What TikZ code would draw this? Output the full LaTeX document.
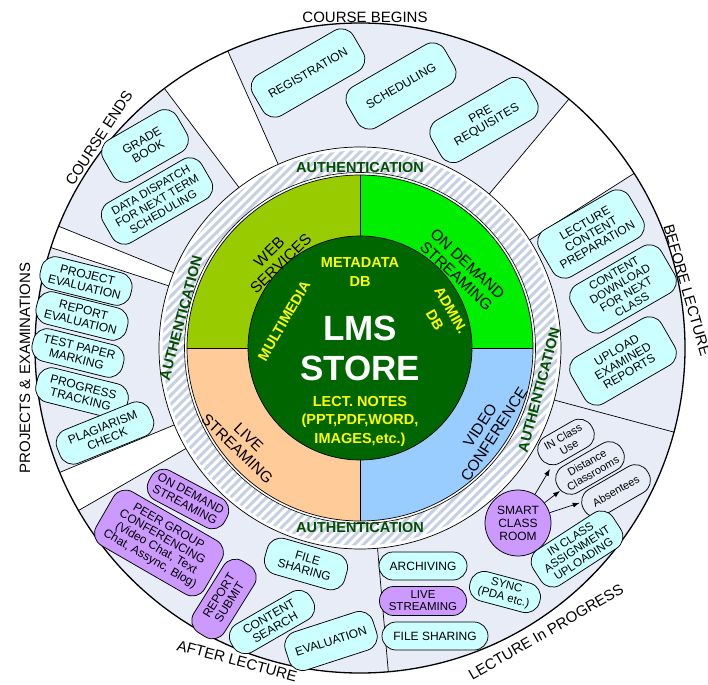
\documentclass[tikz,border=0pt]{standalone}
\usepackage{fontspec}
\setmainfont{Liberation Sans}
\usetikzlibrary{arrows.meta}
\definecolor{lav}{HTML}{E8ECF7}
\definecolor{cyanbox}{HTML}{CCFFFF}
\definecolor{purplebox}{HTML}{CC99FF}
\definecolor{webg}{HTML}{99CC00}
\definecolor{odg}{HTML}{00EE00}
\definecolor{livec}{HTML}{FFCC99}
\definecolor{videoc}{HTML}{99CCFF}
\definecolor{innerg}{HTML}{006600}
\definecolor{authg}{HTML}{004F00}
\definecolor{hatchc}{HTML}{C6D0E4}
\definecolor{yel}{HTML}{FFFF00}
\begin{document}
\begin{tikzpicture}[x=1pt,y=1pt,
  bx/.style={draw=black, line width=0.75pt, rounded corners=14pt, align=center, inner sep=0pt, font=\fontsize{12}{12.5}\selectfont, text=black},
  cb/.style={bx, fill=cyanbox},
  pb/.style={bx, fill=purplebox},
  wb/.style={bx, font=\fontsize{11}{12}\selectfont},
  sz/.style 2 args={minimum width=#1pt, minimum height=#2pt},
  qt/.style={align=center, font=\fontsize{15.5}{16.5}\selectfont, text=black},
  yt/.style={align=center, font=\bfseries\fontsize{14.5}{18.5}\selectfont, text=yel},
  authtxt/.style={font=\bfseries\fontsize{14.5}{16}\selectfont, text=authg},
  ol/.style={font=\fontsize{15}{16}\selectfont, text=black},
  arr/.style={-{Latex[length=7pt,width=5pt]}, line width=0.7pt}
]
\useasboundingbox (0,0) rectangle (708,-684);
\fill[white] (0,0) rectangle (708,-684);
\begin{scope}[shift={(360,-348)}]
  % outer sectors
  \foreach \a/\b in {50/114, -15/32.5, -85/-15, 210/275, 162/202.5, 127/158}{
    \fill[lav] (\a:201) -- (\a:325) arc[start angle=\a, end angle=\b, radius=325] -- (\b:201) arc[start angle=\b, end angle=\a, radius=201] -- cycle;
  }
  \foreach \a in {50,114,32.5,-15,-85,210,202.5,162,158,127}{
    \draw[line width=0.7pt] (\a:201) -- (\a:325);
  }
  \draw[line width=1.3pt] (0,0) circle (325);
  \draw[line width=0.7pt, fill=white] (0,0) circle (201);
  % hatch ring
  \begin{scope}
    \clip (0,0) circle (197.5);
    \foreach \i in {-430,-421,...,430}{
      \draw[hatchc, line width=3pt] (\i-210,-210) -- (\i+210,210);
    }
  \end{scope}
  \fill[white] (0,0) circle (175.5);
  \draw[line width=0.6pt] (0,0) circle (175.5);
  % quadrants
  \fill[webg] (0,0) -- (0,173) arc[start angle=90, end angle=180, radius=173] -- cycle;
  \fill[odg] (0,0) -- (173,0) arc[start angle=0, end angle=90, radius=173] -- cycle;
  \fill[livec] (0,0) -- (-173,0) arc[start angle=180, end angle=270, radius=173] -- cycle;
  \fill[videoc] (0,0) -- (0,-173) arc[start angle=270, end angle=360, radius=173] -- cycle;
  \draw[line width=0.7pt] (0,0) circle (173);
  \draw[line width=0.7pt] (0,173) -- (0,-173) (-173,0) -- (173,0);
  \draw[line width=0.7pt, fill=innerg] (0,0) circle (112);
\end{scope}

% inner texts
\node[yt] (meta) at (360,-272) {METADATA\\DB};
\node[align=center, text=white, font=\bfseries\fontsize{35}{40}\selectfont] (lms) at (360,-348) {LMS\\STORE};
\node[yt] (lect) at (360,-421) {LECT. NOTES\\(PPT,PDF,WORD,\\IMAGES,etc.)};
\node[yt, rotate=60] (mm) at (284,-321) {MULTIMEDIA};
\node[yt, rotate=-60] (adm) at (443,-315) {ADMIN.\\DB};

% quadrant texts
\node[qt, rotate=44] (web) at (275,-258) {WEB\\SERVICES};
\node[qt, rotate=-43] (ods1) at (462,-270) {ON DEMAND\\STREAMING};
\node[qt, rotate=-44] (live1) at (243,-443) {LIVE\\STREAMING};
\node[qt, rotate=57] (vid) at (487,-430) {VIDEO\\CONFERENCE};

% authentication
\node[authtxt] (auth1) at (360,-168) {AUTHENTICATION};
\node[authtxt] (auth2) at (360,-528) {AUTHENTICATION};
\node[authtxt, rotate=75] (auth3) at (181,-318) {AUTHENTICATION};
\node[authtxt, rotate=75] (auth4) at (539,-390) {AUTHENTICATION};

% course begins
\node[cb, sz={116}{47}, rotate=30] (reg) at (308,-73) {REGISTRATION};
\node[cb, sz={112}{47}, rotate=30] (sch) at (401,-86) {SCHEDULING};
\node[cb, sz={110}{47}, rotate=30] (pre) at (484,-120) {PRE\\REQUISITES};
% course ends
\node[cb, sz={85}{47}, rotate=30] (grade) at (145,-146) {GRADE\\BOOK};
\node[cb, sz={114}{46}, rotate=30, font=\fontsize{11.5}{12.5}\selectfont] (dd) at (157,-201) {DATA DISPATCH\\FOR NEXT TERM\\SCHEDULING};
% projects
\node[cb, sz={93}{33}, rotate=-14] (pe) at (86,-281) {PROJECT\\EVALUATION};
\node[cb, sz={93}{33}, rotate=-14] (re) at (82,-316) {REPORT\\EVALUATION};
\node[cb, sz={93}{33}, rotate=-14] (tp) at (78,-353) {TEST PAPER\\MARKING};
\node[cb, sz={93}{35}, rotate=-14] (pt) at (82,-393) {PROGRESS\\TRACKING};
\node[cb, sz={100}{36}, rotate=22] (pl) at (105,-433) {PLAGIARISM\\CHECK};
% before lecture
\node[cb, sz={104}{54}, rotate=30] (lcp) at (591,-234) {LECTURE\\CONTENT\\PREPARATION};
\node[cb, sz={104}{54}, rotate=30, font=\fontsize{11.5}{12}\selectfont] (cdn) at (623,-289) {CONTENT\\DOWNLOAD\\FOR NEXT\\CLASS};
\node[cb, sz={104}{54}, rotate=30] (uer) at (623,-361) {UPLOAD\\EXAMINED\\REPORTS};
% lecture in progress
\node[circle, draw, line width=0.75pt, fill=purplebox, minimum size=66pt, inner sep=0pt, align=center, font=\fontsize{12}{13}\selectfont] (smart) at (518,-523) {SMART\\CLASS\\ROOM};
\node[wb, sz={60}{30}, rotate=30] (icu) at (566,-442) {IN Class\\Use};
\node[wb, sz={74}{30}, rotate=30] (dist) at (590,-468) {Distance\\Classrooms};
\node[wb, sz={74}{30}, rotate=30] (abs) at (616,-491) {Absentees};
\draw[arr] (smart) -- (icu);
\draw[arr] (smart) -- (dist);
\draw[arr] (smart) -- (abs);
\node[cb, sz={95}{42}, rotate=33, font=\fontsize{11.5}{12}\selectfont] (ica) at (577,-549) {IN CLASS\\ASSIGNMENT\\UPLOADING};
\node[cb, sz={72}{30}, rotate=-15, font=\fontsize{11.5}{12}\selectfont] (sync) at (505,-592) {SYNC\\(PDA etc.)};
\node[cb, sz={88}{28}] (arch) at (423,-566) {ARCHIVING};
\node[pb, sz={87}{29}, font=\fontsize{11.5}{12}\selectfont] (ls2) at (423,-601) {LIVE\\STREAMING};
\node[cb, sz={106}{28}] (fs2) at (435,-636) {FILE SHARING};
% after lecture
\node[pb, sz={86}{33}, rotate=-28] (ods2) at (188,-499) {ON DEMAND\\STREAMING};
\node[pb, sz={125}{62}, rotate=-30] (peer) at (159,-543) {PEER GROUP\\CONFERENCING\\(Video Chat, Text\\Chat, Assync, Blog)};
\node[pb, sz={84}{36}, rotate=58] (rs) at (224,-599) {REPORT\\SUBMIT};
\node[cb, sz={83}{37}, rotate=-16] (fs1) at (306,-564) {FILE\\SHARING};
\node[cb, sz={92}{32}, rotate=30] (cs) at (272,-622) {CONTENT\\SEARCH};
\node[cb, sz={92}{40}, rotate=18] (ev) at (331,-641) {EVALUATION};

% outer labels
\node[ol] (l1) at (365,-17) {COURSE BEGINS};
\node[ol, rotate=57] (l2) at (99,-138) {COURSE ENDS};
\node[ol, rotate=90] (l3) at (25,-368) {PROJECTS \& EXAMINATIONS};
\node[ol, rotate=-74] (l4) at (687,-290) {BEFORE LECTURE};
\node[ol, rotate=-15] (l5) at (237,-661) {AFTER LECTURE};
\node[ol, rotate=30] (l6) at (546,-632) {LECTURE In PROGRESS};
\end{tikzpicture}
\end{document}
